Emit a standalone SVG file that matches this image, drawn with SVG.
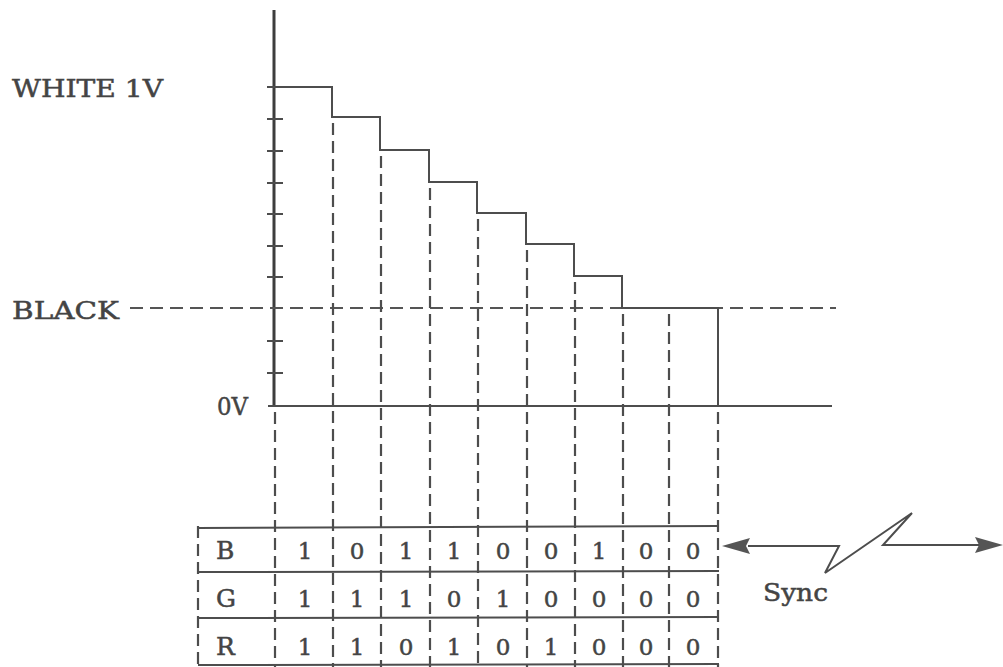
<svg xmlns="http://www.w3.org/2000/svg" width="1003" height="667" viewBox="0 0 1003 667">
<style>
.ln{stroke:#4d4d4d;stroke-width:2;fill:none}
.ax{stroke:#3d3d3d;stroke-width:3;fill:none}
.ds{stroke:#4d4d4d;stroke-width:2.2;fill:none;stroke-dasharray:12 6}
.dh{stroke:#555;stroke-width:2;fill:none;stroke-dasharray:13 7}
.t{font-family:"DejaVu Serif","Liberation Serif",serif;font-size:25px;fill:#444;stroke:#444;stroke-width:0.5}
.n{font-family:"DejaVu Serif","Liberation Serif",serif;font-size:23px;fill:#444;stroke:#444;stroke-width:0.5;text-anchor:middle}
.ah{fill:#555;stroke:none}
</style>
<rect width="1003" height="667" fill="#fff"/>
<g id="labels">
<text class="t" x="12" y="97" textLength="151" lengthAdjust="spacingAndGlyphs">WHITE  1V</text>
<text class="t" x="12" y="319" textLength="107" lengthAdjust="spacingAndGlyphs">BLACK</text>
<text class="t" x="217" y="415" textLength="31" lengthAdjust="spacingAndGlyphs">0V</text>
</g>
<g id="axis">
<line class="ax" x1="274" y1="10" x2="274" y2="406"/>
<path class="ln" d="M267 87H283M267 119H283M267 151H283M267 183H283M267 214H283M267 246H283M267 277H283M267 341H283M267 373H283"/>
</g>
<g id="reference-lines">
<line class="dh" x1="130" y1="308" x2="836" y2="308"/>
<line class="ln" x1="268" y1="406" x2="832" y2="406"/>
</g>
<g id="staircase">
<path class="ln" d="M274 87H332V117H380V150H429V182H477V213H526V244H574V276H622V308H718V406"/>
</g>
<g id="connectors">
<line class="ds" x1="275" y1="412" x2="275" y2="667"/>
<line class="ds" x1="333" y1="123" x2="333" y2="667"/>
<line class="ds" x1="381" y1="156" x2="381" y2="667"/>
<line class="ds" x1="430" y1="188" x2="430" y2="667"/>
<line class="ds" x1="478" y1="219" x2="478" y2="667"/>
<line class="ds" x1="527" y1="250" x2="527" y2="667"/>
<line class="ds" x1="575" y1="282" x2="575" y2="667"/>
<line class="ds" x1="623" y1="314" x2="623" y2="667"/>
<line class="ds" x1="669" y1="314" x2="669" y2="667"/>
<line class="ds" x1="718" y1="412" x2="718" y2="667"/>
</g>
<g id="table">
<line class="ds" x1="198" y1="526" x2="198" y2="667"/>
<line class="ln" x1="198" y1="528" x2="719" y2="526"/>
<line class="ln" x1="198" y1="572" x2="719" y2="571"/>
<line class="ln" x1="198" y1="618" x2="719" y2="617"/>
<line class="ln" x1="198" y1="665" x2="719" y2="664"/>
<text class="t" x="216" y="559">B</text>
<text class="t" x="216" y="607">G</text>
<text class="t" x="216" y="655">R</text>
<g id="row-B">
<text class="n" x="305" y="559">1</text><text class="n" x="357" y="559">0</text><text class="n" x="406" y="559">1</text><text class="n" x="454" y="559">1</text><text class="n" x="503" y="559">0</text><text class="n" x="551" y="559">0</text><text class="n" x="599" y="559">1</text><text class="n" x="646" y="559">0</text><text class="n" x="693" y="559">0</text>
</g>
<g id="row-G">
<text class="n" x="305" y="607">1</text><text class="n" x="357" y="607">1</text><text class="n" x="406" y="607">1</text><text class="n" x="454" y="607">0</text><text class="n" x="503" y="607">1</text><text class="n" x="551" y="607">0</text><text class="n" x="599" y="607">0</text><text class="n" x="646" y="607">0</text><text class="n" x="693" y="607">0</text>
</g>
<g id="row-R">
<text class="n" x="305" y="655">1</text><text class="n" x="357" y="655">1</text><text class="n" x="406" y="655">0</text><text class="n" x="454" y="655">1</text><text class="n" x="503" y="655">0</text><text class="n" x="551" y="655">1</text><text class="n" x="599" y="655">0</text><text class="n" x="646" y="655">0</text><text class="n" x="693" y="655">0</text>
</g>
</g>
<g id="sync">
<polyline class="ln" points="748,546 839,546 825,573 912,513 883,545 980,545"/>
<polygon class="ah" points="722,546 750,538 746,546 750,554"/>
<polygon class="ah" points="1003,545 975,537 979,545 975,553"/>
<text class="t" x="763" y="601" font-size="24" textLength="65" lengthAdjust="spacingAndGlyphs">Sync</text>
</g>
</svg>
